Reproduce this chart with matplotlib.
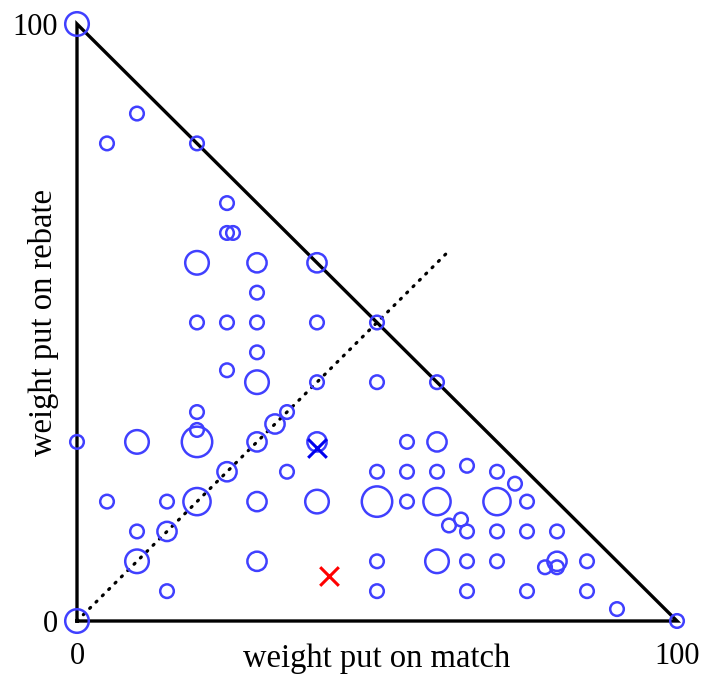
import matplotlib
matplotlib.use("Agg")
import matplotlib.pyplot as plt
import numpy as np

# data: (weight on match, weight on rebate, count)
match = [0, 10, 5, 20, 25, 25, 26, 20, 30, 40, 30, 20, 25, 30, 40,
         30, 25, 30, 40, 20, 35, 33, 20, 0, 10, 20, 30, 40, 25, 35,
         5, 15, 20, 30, 40, 10, 15, 10, 30, 15, 0,
         50, 60, 55, 60, 50, 55, 60, 65, 70, 73, 50, 55, 60, 70, 75,
         62, 64, 65, 70, 75, 80, 50, 60, 65, 70, 78, 80, 80, 85,
         50, 65, 75, 85, 90, 100, 50]
rebate = [100, 85, 80, 80, 70, 65, 65, 60, 60, 60, 55, 50, 50, 50, 50,
          45, 42, 40, 40, 35, 35, 33, 32, 30, 30, 30, 30, 30, 25, 25,
          20, 20, 20, 20, 20, 15, 15, 10, 10, 5, 0,
          40, 40, 30, 30, 25, 25, 25, 26, 25, 23, 20, 20, 20, 20, 20,
          16, 17, 15, 15, 15, 15, 10, 10, 10, 10, 9, 10, 9, 10,
          5, 5, 5, 5, 2, 0, 50]
count = [3, 1, 1, 1, 1, 1, 1, 3, 2, 2, 1, 1, 1, 1, 1,
         1, 1, 3, 1, 1, 1, 2, 1, 1, 3, 5, 2, 2, 2, 1,
         1, 1, 4, 2, 3, 1, 2, 3, 2, 1, 3,
         1, 1, 1, 2, 1, 1, 1, 1, 1, 1, 5, 1, 4, 4, 1,
         1, 1, 1, 1, 1, 1, 1, 3, 1, 1, 1, 2, 1, 1,
         1, 1, 1, 1, 1, 1, 1]

blue_x = (40, 29)
red_x = (42, 7.5)
diag_end = 62
tick_vals = [0, 100]
tick_labels = ["0", "100"]
xlabel = "weight put on match"
ylabel = "weight put on rebate"

plt.rcParams['font.family'] = ['Liberation Serif', 'DejaVu Serif']

W, H = 703, 675
fig = plt.figure(figsize=(W / 100, H / 100), dpi=100)
ax = fig.add_axes([77/W, 54/H, 600/W, 597/H])
ax.set_xlim(0, 100)
ax.set_ylim(0, 100)
for s in ax.spines.values():
    s.set_visible(False)

# triangle
ax.plot([0, 100, 0, 0], [0, 0, 100, 0], color='black', lw=2.4,
        solid_joinstyle='miter', clip_on=False, zorder=2)
# diagonal dotted
ax.plot([0, diag_end], [0, diag_end], color='black', lw=2.3,
        linestyle=(0, (0.4, 2.4)), dash_capstyle='round', clip_on=False, zorder=2)

ax.scatter(match, rebate, s=np.array(count) * 96, facecolors='none',
           edgecolors='#4040ff', linewidths=1.8, clip_on=False, zorder=3)

ax.scatter([blue_x[0]], [blue_x[1]], marker='x', s=180, color='#0000ee',
           linewidths=2.2, zorder=4, clip_on=False)
ax.scatter([red_x[0]], [red_x[1]], marker='x', s=180, color='#ff0000',
           linewidths=2.2, zorder=4, clip_on=False)

ax.set_xticks(tick_vals)
ax.set_xticklabels(tick_labels)
ax.set_yticks(tick_vals)
ax.set_yticklabels(tick_labels)
ax.tick_params(axis='x', length=0, labelsize=22, pad=15)
ax.tick_params(axis='y', length=0, labelsize=22, pad=14)

fig.text(377 / W, 1 - 659 / H, xlabel, fontsize=23.5, ha='center', va='center')
fig.text(44 / W, 1 - 322 / H, ylabel, fontsize=23.5, ha='center', va='center',
         rotation=90)

fig.savefig("out.png", dpi=100)
